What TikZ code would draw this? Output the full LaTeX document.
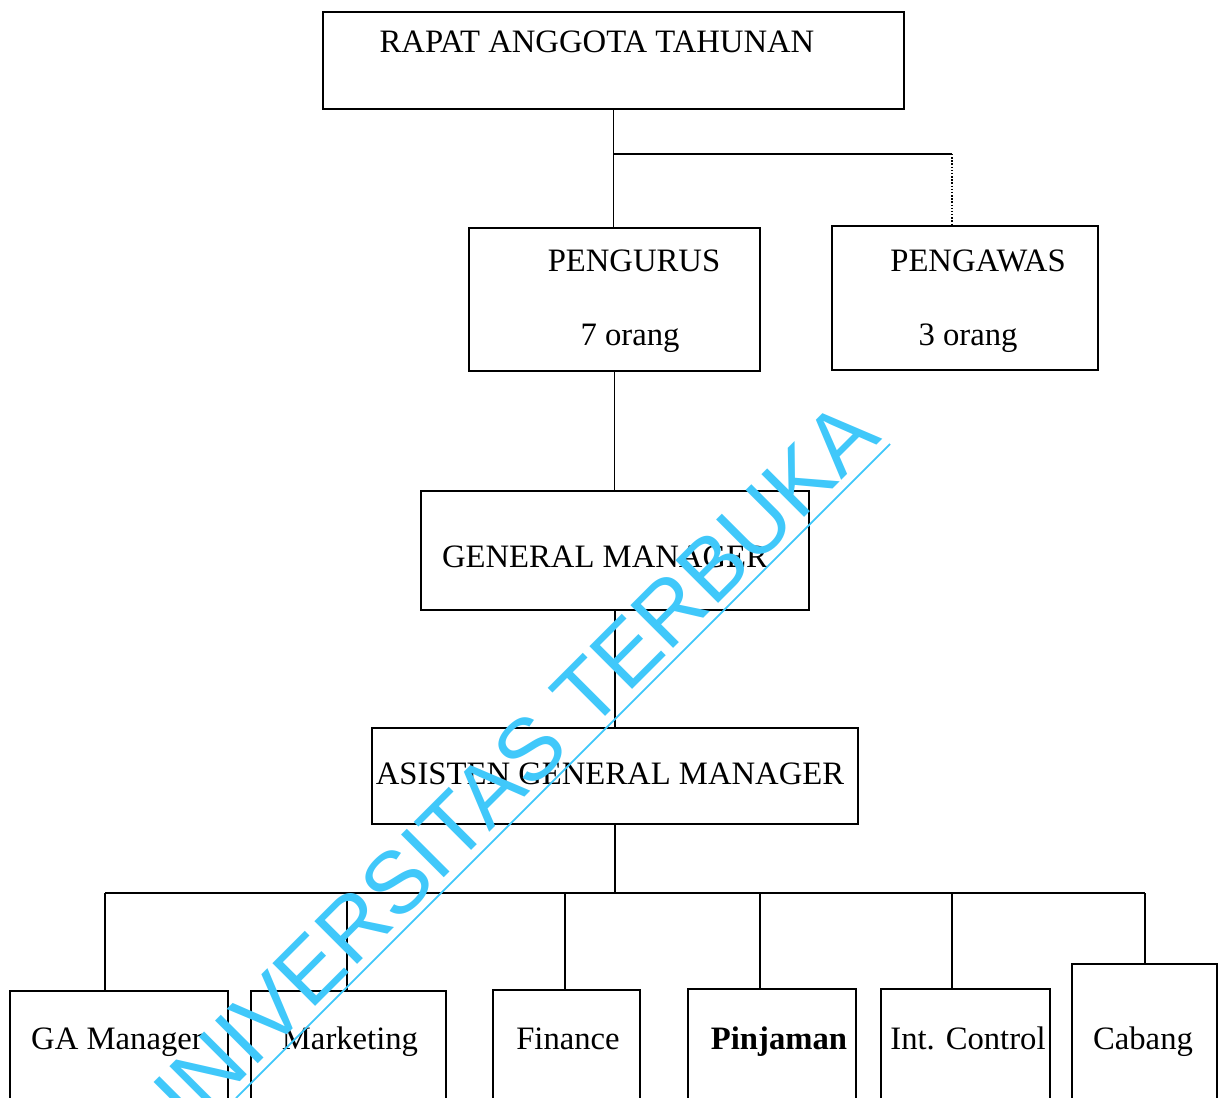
\documentclass[tikz,border=0pt]{standalone}
\usepackage{fontspec}
\setmainfont{Liberation Serif}
\newfontfamily\wmfont{Liberation Sans}
\definecolor{wmblue}{RGB}{64,200,250}
\tikzset{
  box/.style 2 args={draw, line width=1.1pt, anchor=north west, inner sep=0pt,
    minimum width=#1*0.02cm, minimum height=#2*0.02cm},
  lbl/.style={anchor=base, inner sep=0pt, font=\fontsize{18.6}{20}\selectfont},
  link/.style={line width=1.1pt},
  dotline/.style={densely dotted, line width=0.8pt}
}
\begin{document}
\begin{tikzpicture}[x=0.02cm,y=-0.02cm]
    \useasboundingbox (0,0) rectangle (1224,1098);
    \clip (0,0) rectangle (1224,1098);

    % kotak
    \node[box={581}{97}] (rat) at (322,11) {};
    \node[box={291}{143}] (peng) at (468,227) {};
    \node[box={266}{144}] (pgw) at (831,225) {};
    \node[box={388}{119}] (gm) at (420,490) {};
    \node[box={486}{96}] (agm) at (371,727) {};
    \node[box={218}{200}] (ga) at (9,990) {};
    \node[box={195}{200}] (mkt) at (250,990) {};
    \node[box={147}{200}] (fin) at (492,989) {};
    \node[box={168}{200}] (pin) at (687,988) {};
    \node[box={169}{200}] (ic) at (880,988) {};
    \node[box={145}{225}] (cab) at (1071,963) {};

    % teks
    \node[lbl] (ratt) at (597,53) {RAPAT ANGGOTA TAHUNAN};
    \node[lbl] (pengt) at (634,272) {PENGURUS};
    \node[lbl] (pengn) at (630,345) {7 orang};
    \node[lbl] (pgwt) at (978,272) {PENGAWAS};
    \node[lbl] (pgwn) at (968,345) {3 orang};
    \node[lbl] (gmt) at (605,567) {GENERAL MANAGER};
    \node[lbl] (agmt) at (610,784) {ASISTEN GENERAL MANAGER};
    \node[lbl] (gat) at (117,1049) {GA Manager};
    \node[lbl] (mktt) at (350,1049) {Marketing};
    \node[lbl] (fint) at (568,1049) {Finance};
    \node[lbl] (pint) at (779,1049) {\bfseries Pinjaman};
    \node[lbl] (ict) at (968,1049) {Int. Control};
    \node[lbl] (cabt) at (1143,1049) {Cabang};

    % garis
    \coordinate (split) at (613,154);
    \coordinate (pgwin) at (952,225);
    \coordinate (bus) at (614,893);
    \coordinate (busl) at (105,893);
    \coordinate (busr) at (1145,893);
    \draw[link] (rat.south) -- (rat.south |- peng.north);
    \draw[link] (split) -- (split -| pgwin);
    \draw[dotline] (split -| pgwin) -- (pgwin);
    \draw[link] (peng.south) -- (peng.south |- gm.north);
    \draw[link] (gm.south) -- (gm.south |- agm.north);
    \draw[link] (agm.south) -- (agm.south |- bus);
    \draw[link] (busl) -- (busr);
    \foreach \n/\x in {ga/105,mkt/347,fin/565,pin/760,ic/952,cab/1145}
        \draw[link] (bus -| \x,0) -- (\x,0 |- \n.north);

    % watermark
    \coordinate (wma) at (236,1098);
    \coordinate (wmb) at (890,444);
    \draw[wmblue, line width=1pt] (wma) -- (wmb);
    \node[wmblue, anchor=base east, inner sep=0pt, rotate=45,
          font=\wmfont\fontsize{50}{50}\selectfont] (wm) at (883,439) {UNIVERSITAS TERBUKA};
\end{tikzpicture}
\end{document}
